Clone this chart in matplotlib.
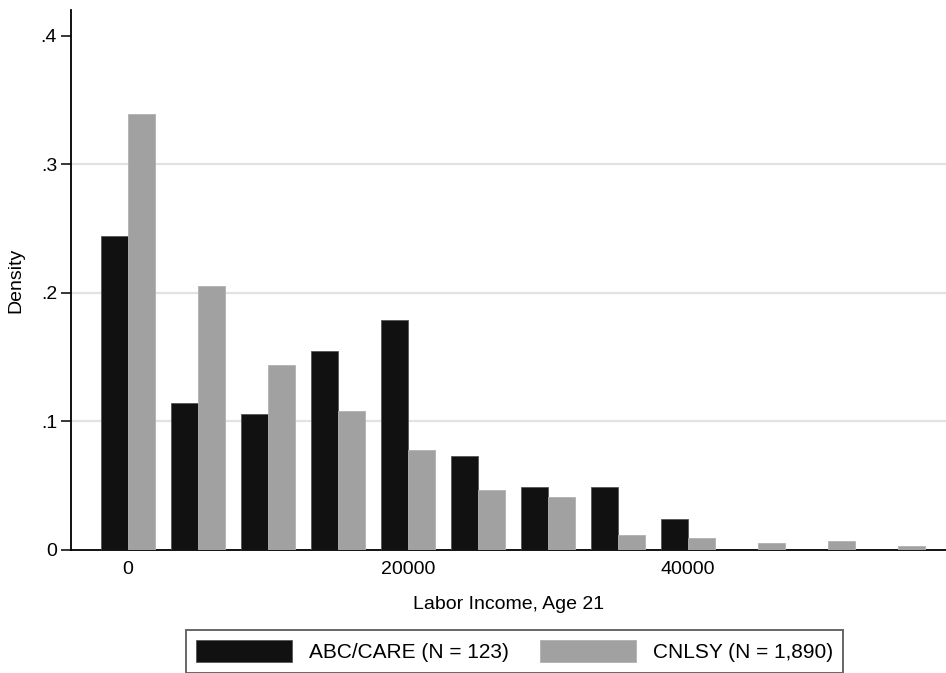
#!/usr/bin/env python3
"""Histogram of labor income at age 21, ABC/CARE vs CNLSY."""
import matplotlib.pyplot as plt
import numpy as np

plt.rcParams['font.family'] = ['Liberation Sans', 'DejaVu Sans']

bins = [0, 5000, 10000, 15000, 20000, 25000, 30000, 35000, 40000, 45000, 50000, 55000]
abc_care = [0.244, 0.114, 0.106, 0.155, 0.179, 0.073, 0.049, 0.049, 0.0245, 0, 0, 0]
cnlsy = [0.339, 0.205, 0.144, 0.108, 0.078, 0.047, 0.041, 0.012, 0.0096, 0.0054, 0.0068, 0.0029]
labels = ['ABC/CARE (N = 123)', 'CNLSY (N = 1,890)']

fig = plt.figure(figsize=(9.46, 6.73), dpi=100)
ax = fig.add_axes([71/946, 123/673, 875/946, 540/673])

x = np.array(bins)
w = 1930
ax.bar(x, abc_care, width=-w, align='edge', color='#111111', edgecolor='#555555',
       linewidth=0.6, label=labels[0], zorder=3)
ax.bar(x, cnlsy, width=w, align='edge', color='#a1a1a1', edgecolor='#b0b0b0',
       linewidth=0.6, label=labels[1], zorder=3)

ax.set_xlim(-4070, 58430)
ax.set_ylim(0, 0.42)
ax.set_yticks([0, 0.1, 0.2, 0.3, 0.4])
ax.set_yticklabels(['0', '.1', '.2', '.3', '.4'])
ax.set_xticks([0, 20000, 40000])
ax.set_xticklabels(['0', '20000', '40000'])
for y in [0.1, 0.2, 0.3]:
    ax.axhline(y, color='#e2e2e2', linewidth=1.6, zorder=1)

for s in ['top', 'right']:
    ax.spines[s].set_visible(False)
for s in ['left', 'bottom']:
    ax.spines[s].set_linewidth(1.3)
fs = 14
ax.tick_params(axis='y', length=7, width=1.1, labelsize=fs, pad=3)
ax.tick_params(axis='x', length=0, labelsize=fs, pad=8)

ax.set_ylabel('Density', fontsize=fs, labelpad=12)
ax.set_xlabel('Labor Income, Age 21', fontsize=fs, labelpad=13)

leg = fig.legend(loc='upper left', bbox_to_anchor=(186/946, 1 - 630/673), ncol=2,
                 fontsize=15, frameon=True, fancybox=False, handlelength=4.6,
                 handleheight=1.25, handletextpad=0.8, columnspacing=1.5,
                 borderpad=0.5, borderaxespad=0)
leg.get_frame().set_edgecolor('#404040')
leg.get_frame().set_linewidth(1.4)

fig.savefig('out.png', dpi=100)
